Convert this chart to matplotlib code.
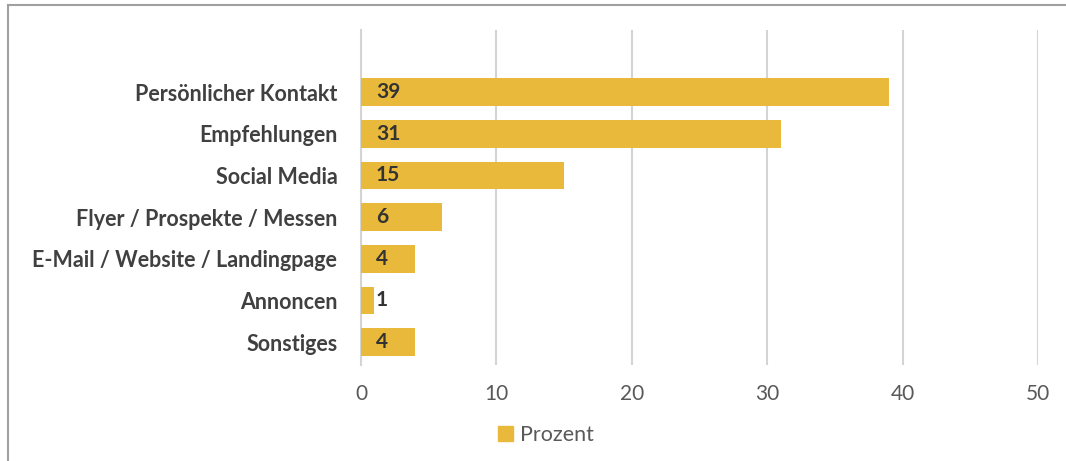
import matplotlib
matplotlib.use("Agg")
import matplotlib.pyplot as plt
from matplotlib.lines import Line2D
from matplotlib.patches import Patch

categories = ["Persönlicher Kontakt", "Empfehlungen", "Social Media",
              "Flyer / Prospekte / Messen", "E-Mail / Website / Landingpage",
              "Annoncen", "Sonstiges"]
values = [39, 31, 15, 6, 4, 1, 4]
xticks = [0, 10, 20, 30, 40, 50]
series_name = "Prozent"

BAR = "#E9B93B"
GRID = "#D4D4D4"
TXT = "#404040"

plt.rcParams["font.family"] = ["Lato", "DejaVu Sans"]

fig = plt.figure(figsize=(10.66, 4.61), dpi=100)
ax = fig.add_axes([0.3386, 0.2082, 0.6351, 0.7267])

pos = list(range(len(categories)))
ax.barh(pos, values, height=0.66, color=BAR, zorder=3)
for p, v in zip(pos, values):
    ax.text(1.1, p, str(v), ha="left", va="center", fontsize=15,
            fontweight="bold", color="#333333", zorder=4)

ax.set_xlim(0, 50)
ax.set_ylim(6.55, -1.49)
ax.set_xticks(xticks)
ax.set_xticklabels([str(t) for t in xticks])
ax.set_yticks(pos)
ax.set_yticklabels(categories, fontsize=15.5, fontweight="bold", color=TXT)
ax.tick_params(axis="x", length=0, pad=14, labelsize=15, labelcolor="#595959")
ax.tick_params(axis="y", length=0, pad=17)
ax.xaxis.grid(True, color=GRID, linewidth=1.5, zorder=0)
for s in ["top", "right", "bottom"]:
    ax.spines[s].set_visible(False)
ax.spines["left"].set_color(GRID)
ax.spines["left"].set_linewidth(1.5)

fig.legend(handles=[Patch(color=BAR, label=series_name)],
           loc="center", bbox_to_anchor=(0.512, 0.056), frameon=False,
           fontsize=15.5, handlelength=0.7, handleheight=0.7, handletextpad=0.3,
           labelcolor="#595959")

# outer frame
fig.add_artist(Line2D([0.0075, 1.0], [0.989, 0.989], color="#A0A0A0", lw=1.5,
                      transform=fig.transFigure))
fig.add_artist(Line2D([0.0075, 0.0075], [0.0, 0.989], color="#A0A0A0", lw=1.5,
                      transform=fig.transFigure))

fig.savefig("out.png", dpi=100)
